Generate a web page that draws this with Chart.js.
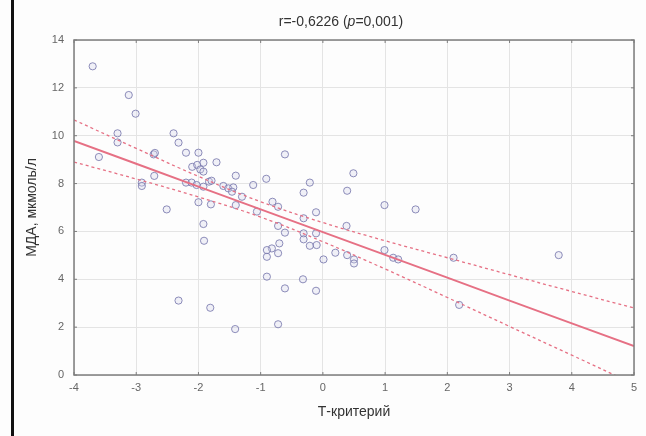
<!DOCTYPE html>
<html>
<head>
<meta charset="utf-8">
<script src="https://cdn.jsdelivr.net/npm/chart.js@4/dist/chart.umd.min.js"></script>
<style>
  body { margin: 0; background: #fdfdfd; }
  #scatterMda { display: block; }
</style>
</head>
<body>
<canvas id="scatterMda" width="646" height="436"></canvas>
<script>
// T-критерий по оси X, МДА (мкмоль/л) по оси Y
const tValues = [
    -3.70, -3.12, -3.01, -3.30, -3.30, -3.60, -2.72, -2.70, -2.40, -2.32,
    -2.20, -2.00, -1.71, -2.10, -2.02, -1.92, -1.97, -1.92, -1.40, -2.91,
    -2.91, -2.71, -2.20, -2.11, -2.03, -1.92, -1.83, -1.79, -1.60, -1.52,
    -1.44, -1.46, -1.30, -1.12, -2.00, -1.80, -1.40, -1.06, -2.51, -1.92,
    -1.91, -0.61, 0.49, 0.39, 0.99, -0.21, -0.31, -0.91, -0.81, -0.72,
    -0.11, -0.31, -0.72, -0.61, -0.31, -0.11, -0.31, -0.21, -0.10, -0.70,
    -0.82, -0.90, -0.72, -0.90, 0.01, 0.20, 0.39, 0.50, 0.50, 0.38,
    0.99, 1.13, 1.21, 1.49, 2.10, 3.79, 2.19, -0.90, -0.32, -0.61,
    -0.11, -2.32, -1.81, -1.41, -0.72
];
const mdaValues = [
    12.90, 11.70, 10.92, 10.10, 9.72, 9.11, 9.22, 9.28, 10.10, 9.71,
    9.29, 9.29, 8.89, 8.70, 8.78, 8.87, 8.59, 8.50, 8.33, 8.04,
    7.90, 8.32, 8.04, 8.04, 7.94, 7.87, 8.08, 8.12, 7.90, 7.80,
    7.84, 7.66, 7.45, 7.94, 7.22, 7.13, 7.10, 6.83, 6.92, 6.31,
    5.61, 9.22, 8.43, 7.70, 7.10, 8.04, 7.62, 8.20, 7.24, 7.03,
    6.80, 6.55, 6.23, 5.95, 5.92, 5.92, 5.67, 5.40, 5.43, 5.50,
    5.29, 5.22, 5.09, 4.94, 4.83, 5.11, 5.01, 4.83, 4.66, 6.23,
    5.22, 4.90, 4.83, 6.92, 4.90, 5.01, 2.93, 4.11, 4.00, 3.62,
    3.52, 3.11, 2.81, 1.92, 2.12
];

// линия регрессии и 95% доверительный интервал
const fitX = [-4, -3, -2, -1, 0, 1, 2, 3, 4, 5];
const fitY = [9.78, 8.83, 7.87, 6.92, 5.97, 5.02, 4.07, 3.11, 2.16, 1.21];
const upperY = [10.66, 9.47, 8.30, 7.24, 6.37, 5.61, 4.90, 4.19, 3.49, 2.80];
const lowerY = [8.90, 8.19, 7.44, 6.60, 5.57, 4.43, 3.24, 2.03, 0.83, -0.38];

const titleR = "r=-0,6226 (";
const titleP = "p";
const titleTail = "=0,001)";

const pts = (xs, ys) => xs.map((x, i) => ({ x: x, y: ys[i] }));

const lineRed = 'rgb(230,112,132)';

// рамка графика, засечки и черная линия слева
const framePlugin = {
    id: 'frame',
    beforeDraw(chart) {
        const ctx = chart.ctx;
        ctx.save();
        ctx.fillStyle = '#fdfdfd';
        ctx.fillRect(0, 0, chart.width, chart.height);
        ctx.fillStyle = '#111';
        ctx.fillRect(11, 0, 3, chart.height);
        ctx.restore();
    },
    afterDraw(chart) {
        const ctx = chart.ctx;
        const a = chart.chartArea;
        const sx = chart.scales.x, sy = chart.scales.y;
        ctx.save();
        ctx.strokeStyle = '#7d7d7d';
        ctx.lineWidth = 1.5;
        ctx.strokeRect(a.left, a.top, a.right - a.left, a.bottom - a.top);
        ctx.lineWidth = 1;
        sx.ticks.forEach(t => {
            const px = sx.getPixelForValue(t.value);
            ctx.beginPath();
            ctx.moveTo(px, a.top); ctx.lineTo(px, a.top + 3);
            ctx.moveTo(px, a.bottom); ctx.lineTo(px, a.bottom - 3);
            ctx.stroke();
        });
        sy.ticks.forEach(t => {
            const py = sy.getPixelForValue(t.value);
            ctx.beginPath();
            ctx.moveTo(a.right, py); ctx.lineTo(a.right - 3, py);
            ctx.moveTo(a.left, py); ctx.lineTo(a.left + 3, py);
            ctx.stroke();
        });

        // заголовок с курсивным p
        const normal = '14px "Liberation Sans", Arial, sans-serif';
        const italic = 'italic 14px "Liberation Sans", Arial, sans-serif';
        ctx.fillStyle = '#333';
        ctx.textBaseline = 'middle';
        ctx.font = normal;
        const w1 = ctx.measureText(titleR).width;
        const w3 = ctx.measureText(titleTail).width;
        ctx.font = italic;
        const w2 = ctx.measureText(titleP).width;
        let x = (a.left + a.right) / 2 - 13 - (w1 + w2 + w3) / 2;
        const y = 22;
        ctx.font = normal;
        ctx.fillText(titleR, x, y);
        x += w1;
        ctx.font = italic;
        ctx.fillText(titleP, x, y);
        x += w2;
        ctx.font = normal;
        ctx.fillText(titleTail, x, y);
        ctx.restore();
    }
};

const scatterCanvas = document.getElementById("scatterMda");

const scatterChart = new Chart(scatterCanvas, {
    type: "scatter",
    data: {
        datasets: [
            {
                type: "line",
                data: pts(fitX, fitY),
                borderColor: lineRed,
                borderWidth: 2,
                pointRadius: 0,
                fill: false,
                tension: 0
            },
            {
                type: "line",
                data: pts(fitX, upperY),
                borderColor: lineRed,
                borderWidth: 1.3,
                borderDash: [3, 3],
                pointRadius: 0,
                fill: false,
                tension: 0.4
            },
            {
                type: "line",
                data: pts(fitX, lowerY),
                borderColor: lineRed,
                borderWidth: 1.3,
                borderDash: [3, 3],
                pointRadius: 0,
                fill: false,
                tension: 0.4
            },
            {
                data: pts(tValues, mdaValues),
                pointRadius: 3.6,
                pointBorderWidth: 1,
                borderColor: 'rgba(115,115,170,0.8)',
                backgroundColor: 'rgba(215,215,235,0.35)'
            }
        ]
    },
    options: {
        responsive: false,
        animation: false,
        layout: { padding: { left: 14, right: 12, top: 40, bottom: 0 } },
        plugins: {
            legend: { display: false },
            tooltip: { enabled: false }
        },
        scales: {
            x: {
                type: "linear",
                min: -4,
                max: 5,
                ticks: {
                    stepSize: 1,
                    color: '#666',
                    font: { family: '"Liberation Sans", Arial', size: 11 },
                    padding: 6
                },
                grid: { color: '#e4e4e4', lineWidth: 1, drawTicks: false },
                border: { display: false },
                title: {
                    display: true,
                    text: "Т-критерий",
                    color: '#333',
                    font: { family: '"Liberation Sans", Arial', size: 14 },
                    padding: { top: 4, bottom: 15 }
                },
                afterFit(s) { s.height = 61; }
            },
            y: {
                min: 0,
                max: 14,
                ticks: {
                    stepSize: 2,
                    color: '#666',
                    font: { family: '"Liberation Sans", Arial', size: 11 },
                    padding: 10
                },
                grid: { color: '#e4e4e4', lineWidth: 1, drawTicks: false },
                border: { display: false },
                title: {
                    display: true,
                    text: "МДА, мкмоль/л",
                    color: '#333',
                    font: { family: '"Liberation Sans", Arial', size: 14 },
                    padding: { top: 10, bottom: 0 }
                },
                afterFit(s) { s.width = 60; }
            }
        }
    },
    plugins: [framePlugin]
});
</script>
</body>
</html>
